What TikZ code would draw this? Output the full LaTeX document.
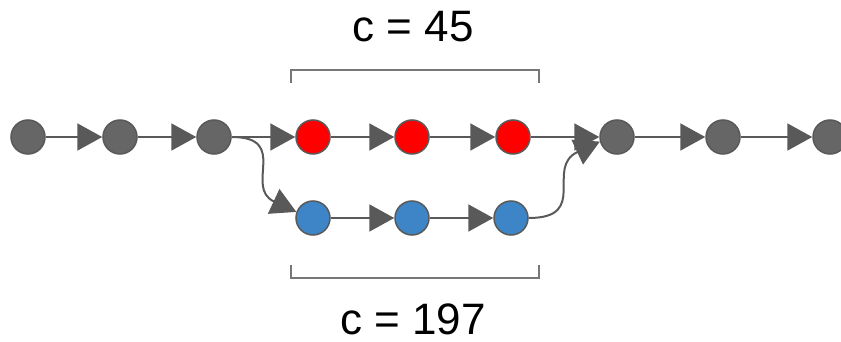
\documentclass[tikz,border=0pt]{standalone}
\usepackage{fontspec}
\setmainfont{Liberation Sans}
\usetikzlibrary{arrows.meta}
\definecolor{nodegray}{HTML}{666666}
\definecolor{edgegray}{HTML}{595959}
\definecolor{brackgray}{HTML}{777777}
\definecolor{hotred}{HTML}{FF0000}
\definecolor{skyblue}{HTML}{3D85C6}
\begin{document}
\begin{tikzpicture}[x=1pt,y=-1pt,
  commit/.style={circle,minimum size=34pt,inner sep=0pt,draw=edgegray,line width=1.5pt},
  plain/.style={commit,fill=nodegray},
  redc/.style={commit,fill=hotred},
  bluec/.style={commit,fill=skyblue},
  link/.style={draw=edgegray,line width=2pt,
    -{Triangle[length=25pt,width=27pt,fill=edgegray]}},
  bracket/.style={draw=brackgray,line width=1.6pt},
  label/.style={font=\fontsize{44}{48}\selectfont,text=black,inner sep=0pt}]
\useasboundingbox (0,0) rectangle (841,342);
% main line
\node[plain] (g1) at (28,137) {};
\node[plain] (g2) at (120,137) {};
\node[plain] (g3) at (214,137) {};
\node[redc]  (r1) at (313,137) {};
\node[redc]  (r2) at (412,137) {};
\node[redc]  (r3) at (513,137) {};
\node[plain] (g4) at (617,137) {};
\node[plain] (g5) at (723,137) {};
\node[plain] (g6) at (830,137) {};
% side branch
\node[bluec] (b1) at (313,218) {};
\node[bluec] (b2) at (412,218) {};
\node[bluec] (b3) at (511,218) {};
% connectors
\draw[link] (g1) -- (g2);
\draw[link] (g2) -- (g3);
\draw[link] (g3) -- (r1);
\draw[link] (r1) -- (r2);
\draw[link] (r2) -- (r3);
\draw[link] (r3) -- (g4);
\draw[link] (g4) -- (g5);
\draw[link] (g5) -- (g6);
\draw[link] (b1) -- (b2);
\draw[link] (b2) -- (b3);
\draw[link] (g3.east) to[out=0,in=155,looseness=1.5] (b1.160);
\draw[link] (b3.east) to[out=0,in=205,looseness=1.5] (g4.195);
% brackets and costs
\coordinate (ta) at (291,83);
\coordinate (tb) at (291,70);
\coordinate (tc) at (539,70);
\coordinate (td) at (539,83);
\draw[bracket] (ta) -- (tb) -- (tc) -- (td);
\coordinate (ba) at (291,265);
\coordinate (bb) at (291,278);
\coordinate (bc) at (539,278);
\coordinate (bd) at (539,265);
\draw[bracket] (ba) -- (bb) -- (bc) -- (bd);
\node[label] (top) at (413,27) {c = 45};
\node[label] (bot) at (413,319) {c = 197};
\end{tikzpicture}
\end{document}
